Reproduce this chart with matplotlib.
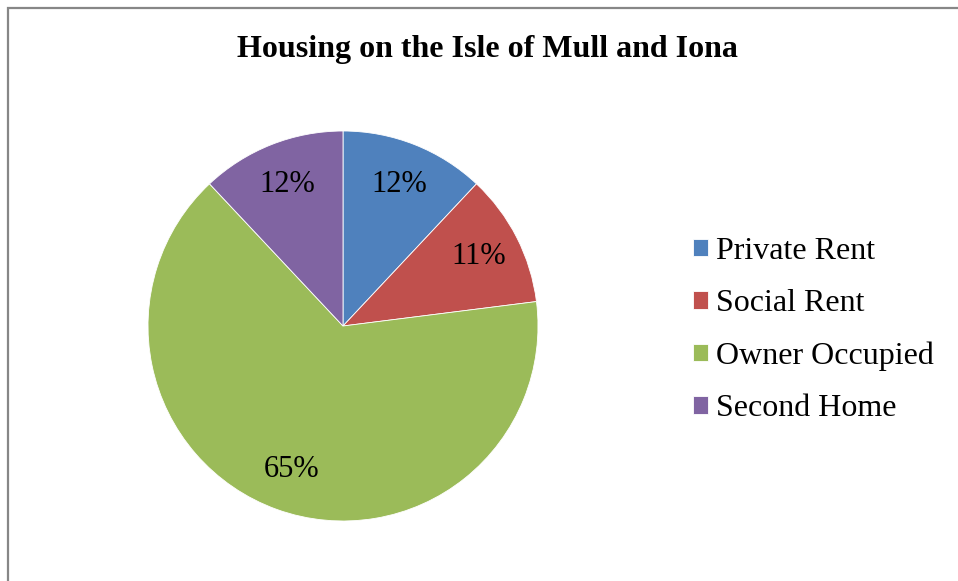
import matplotlib.pyplot as plt
from matplotlib.patches import Rectangle

categories = ["Private Rent", "Social Rent", "Owner Occupied", "Second Home"]
shares = [12, 11, 65, 12]
colors = ["#4F81BD", "#C0504D", "#9BBB59", "#8064A2"]
title = "Housing on the Isle of Mull and Iona"

plt.rcParams["font.family"] = ["Liberation Serif", "DejaVu Serif"]

W, H = 958, 581
fig = plt.figure(figsize=(W / 100, H / 100), dpi=100)

# chart border (right and bottom edges fall outside the picture)
fig.patches.append(Rectangle((8 / W, -0.1), 1.2, 1 - 8 / H + 0.1, transform=fig.transFigure,
                             fill=False, edgecolor="#878787", linewidth=1.6))

cx, cy, r = 343, 326, 195
ax = fig.add_axes([(cx - r) / W, (H - cy - r) / H, 2 * r / W, 2 * r / H])
wedges, texts, autotexts = ax.pie(shares, colors=colors, startangle=90, counterclock=False,
                                  autopct="%d%%", pctdistance=0.78,
                                  wedgeprops=dict(edgecolor="white", linewidth=0.6),
                                  textprops=dict(fontsize=22, color="black"))
ax.set_xlim(-1, 1)
ax.set_ylim(-1, 1)

fig.text(487 / W, 1 - 50 / H, title, ha="center", va="center", fontsize=23, fontweight="bold")

fig.legend(wedges, categories, loc="center left", bbox_to_anchor=(693 / W, 1 - 330 / H),
           frameon=False, fontsize=23, handlelength=0.47, handleheight=0.47,
           handletextpad=0.25, labelspacing=0.73, borderpad=0, borderaxespad=0)

fig.savefig("out.png", dpi=100)
